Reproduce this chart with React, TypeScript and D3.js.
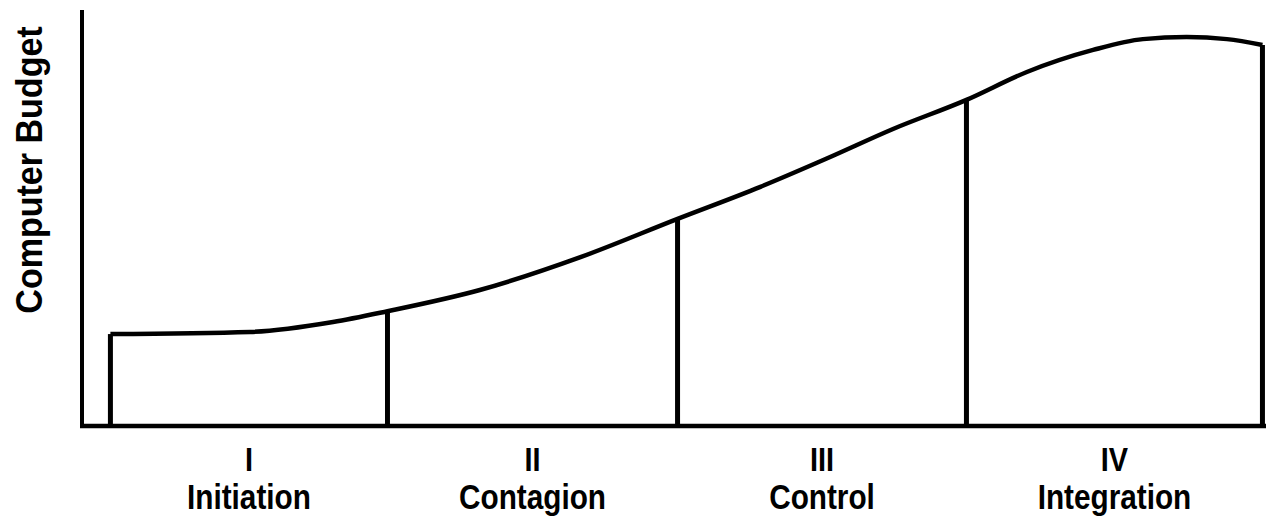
import React from 'react';
import * as d3 from 'd3';

// Stage names and roman numerals
const stageNumerals = ['I', 'II', 'III', 'IV'];
const stageNames = ['Initiation', 'Contagion', 'Control', 'Integration'];

// Stage boundaries (time, 0-100) and the budget level where each boundary meets the curve
const boundaryTimes = [2.4, 25.8, 50.3, 74.7, 99.7];
const boundaryBudgets = [22.1, 27.6, 49.8, 78.4, 91.6];

// Budget curve
const curveTimes = [2.4, 14.2, 21.2, 25.8, 33.6, 42.1, 50.3, 57.3, 62.9, 68.5, 74.7, 79.8, 85.4, 89.6, 93.3, 96.7, 99.7];
const curveBudgets = [22.1, 22.6, 25.0, 27.6, 32.7, 40.6, 49.8, 57.5, 64.3, 71.4, 78.4, 85.1, 90.4, 93.0, 93.5, 93.0, 91.6];

const width = 1273;
const height = 519;
const margin = { top: 10, right: 7, bottom: 93, left: 82 };
const font = '"Liberation Sans", Arial, sans-serif';
const squeeze = 0.85;

const App = () => {
  const x = d3.scaleLinear().domain([0, 100]).range([margin.left, width - margin.right]);
  const y = d3.scaleLinear().domain([0, 100]).range([height - margin.bottom, margin.top]);

  const line = d3.line<number>()
    .x((_, i) => x(curveTimes[i]))
    .y((d) => y(d))
    .curve(d3.curveMonotoneX);

  const x0 = x(0);
  const y0 = y(0);

  return (
    <div style={{ position: 'absolute', left: 0, top: 0 }}>
      <svg width={width} height={height} style={{ display: 'block', background: '#fff' }}>
        {/* axes */}
        <line x1={x0} x2={x0} y1={margin.top} y2={y0 + 2} stroke="#000" strokeWidth={4} />
        <line x1={x0 - 2} x2={x(100)} y1={y0} y2={y0} stroke="#000" strokeWidth={4.5} />

        {/* stage boundaries */}
        {boundaryTimes.map((t, i) => (
          <line key={i} x1={x(t)} x2={x(t)} y1={y0} y2={y(boundaryBudgets[i])} stroke="#000" strokeWidth={5} />
        ))}

        {/* budget curve */}
        <path d={line(curveBudgets) || ''} fill="none" stroke="#000" strokeWidth={4.5} strokeLinejoin="round" />

        {/* stage labels, squeezed to look like a condensed face */}
        {stageNames.map((name, i) => {
          const cx = x((boundaryTimes[i] + boundaryTimes[i + 1]) / 2);
          return (
            <g key={name} fontFamily={font} fontWeight="bold" textAnchor="middle" fill="#000">
              <g transform={`translate(${cx},471) scale(${squeeze},1)`}>
                <text fontSize={34}>{stageNumerals[i]}</text>
              </g>
              <g transform={`translate(${cx},509) scale(${squeeze},1)`}>
                <text fontSize={35}>{name}</text>
              </g>
            </g>
          );
        })}

        {/* y label */}
        <g transform="translate(42, 170) rotate(-90) scale(0.92,1)">
          <text textAnchor="middle" fontFamily={font} fontWeight="bold" fontSize={37} fill="#000">
            Computer Budget
          </text>
        </g>
      </svg>
    </div>
  );
};

export default App;
